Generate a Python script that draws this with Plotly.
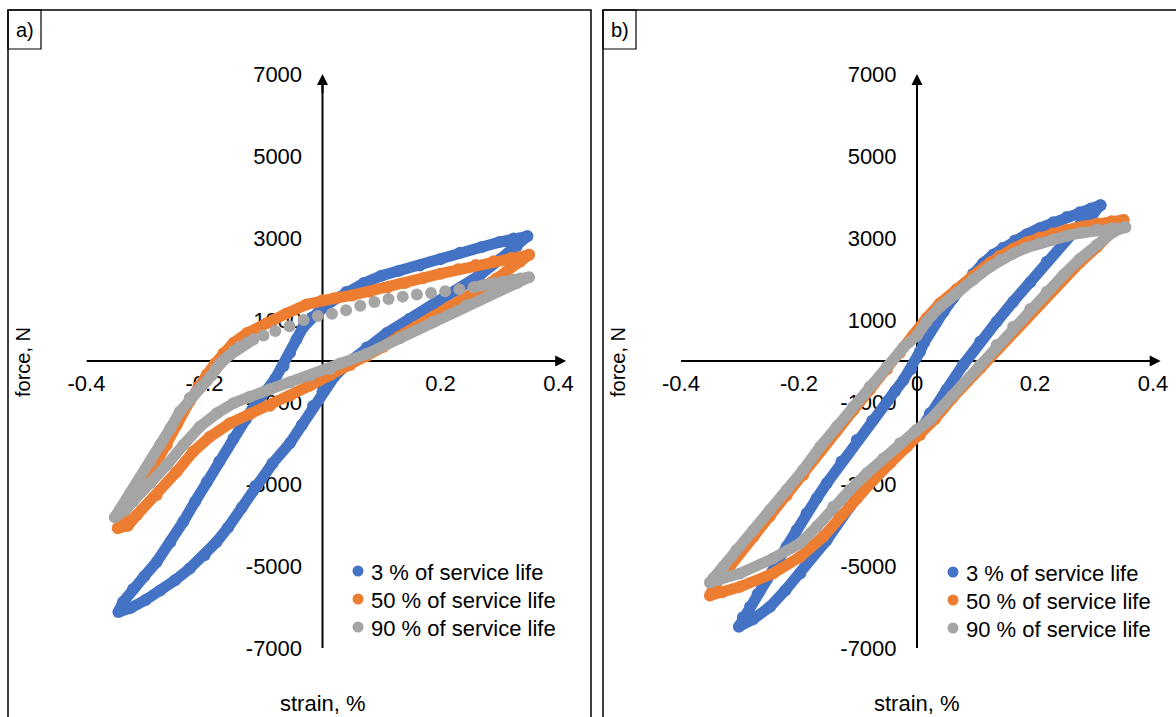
import plotly.graph_objects as go

W, H = 1176, 717

BLUE = "#4472C4"
ORANGE = "#ED7D31"
GRAY = "#A5A5A5"

SERIES_NAMES = ["3 % of service life", "50 % of service life", "90 % of service life"]

X_TICKS = [-0.4, -0.2, 0.0, 0.2, 0.4]
X_TICK_TEXT = ["-0.4", "-0.2", "0", "0.2", "0.4"]
Y_TICKS = [-7000, -5000, -3000, -1000, 1000, 3000, 5000, 7000]
Y_TICK_TEXT = ["-7000", "-5000", "-3000", "-1000", "1000", "3000", "5000", "7000"]

# ---------------- panel a) ----------------
a_blue_strain = [0.347, 0.324, 0.300, 0.270, 0.233, 0.200, 0.165, 0.130, 0.100, 0.070, 0.040, 0.015,
                 -0.004, -0.018, -0.033, -0.044, -0.055, -0.066, -0.080, -0.095, -0.112, -0.130, -0.151,
                 -0.175, -0.196, -0.216, -0.236, -0.258, -0.281, -0.302, -0.321, -0.338, -0.346,
                 -0.325, -0.300, -0.275, -0.250, -0.225, -0.200, -0.180, -0.160, -0.137, -0.114, -0.085,
                 -0.055, -0.035, -0.016, 0.000, 0.020, 0.045, 0.075, 0.109, 0.148, 0.188, 0.227, 0.267,
                 0.301, 0.329, 0.347]
a_blue_force = [3040, 2990, 2900, 2780, 2640, 2480, 2330, 2200, 2080, 1900, 1680, 1450,
                1240, 1060, 820, 530, 200, -120, -430, -720, -1000, -1420, -1890,
                -2450, -2950, -3430, -3920, -4420, -4900, -5250, -5560, -5880, -6120,
                -6020, -5830, -5600, -5350, -5060, -4740, -4420, -4060, -3580, -3050, -2500,
                -2000, -1560, -1100, -750, -380, -30, 330, 680, 1030, 1380, 1720, 2100,
                2480, 2800, 3040]

a_orange_strain = [0.350, 0.320, 0.290, 0.260, 0.230, 0.200, 0.170, 0.140, 0.110, 0.080, 0.050, 0.020,
                   0.000, -0.027, -0.061, -0.095, -0.128, -0.151, -0.168, -0.182, -0.196, -0.210, -0.225,
                   -0.247, -0.264, -0.287, -0.309, -0.332, -0.347,
                   -0.330, -0.315, -0.281, -0.247, -0.219, -0.191, -0.157, -0.123, -0.089, -0.055, -0.021,
                   0.013, 0.047, 0.075, 0.103, 0.130, 0.160, 0.190, 0.216, 0.245, 0.273, 0.295, 0.312,
                   0.335, 0.350]
a_orange_force = [2590, 2510, 2430, 2340, 2240, 2130, 2020, 1900, 1790, 1690, 1600, 1530,
                  1480, 1380, 1160, 920, 680, 440, 190, -60, -330, -620, -980,
                  -1560, -2050, -2620, -3110, -3590, -4080,
                  -4020, -3760, -3270, -2700, -2210, -1850, -1520, -1300, -1090, -850, -600,
                  -340, -100, 120, 350, 600, 840, 1100, 1330, 1570, 1810, 2010, 2180,
                  2420, 2590]

# dense part of the 90 % loop
a_gray_strain = [-0.117, -0.128, -0.140, -0.150, -0.157, -0.166, -0.174, -0.181, -0.188, -0.196, -0.205,
                 -0.215, -0.225, -0.242, -0.258, -0.275, -0.292, -0.309, -0.326, -0.343, -0.352,
                 -0.335, -0.321, -0.292, -0.264, -0.236, -0.208, -0.179, -0.151, -0.123, -0.089, -0.055,
                 -0.021, 0.013, 0.030, 0.075, 0.131, 0.188, 0.245, 0.290, 0.329, 0.350,
                 0.335, 0.323, 0.305, 0.290, 0.272, 0.256]
a_gray_force = [529, 440, 349, 250, 146, 40, -60, -200, -350, -480, -620,
                -760, -900, -1240, -1643, -2050, -2457, -2862, -3270, -3636, -3810,
                -3640, -3433, -2984, -2538, -2050, -1603, -1276, -1032, -871, -691, -520,
                -359, -195, -60, 171, 553, 960, 1366, 1651, 1895, 2045,
                2010, 1976, 1935, 1896, 1850, 1800]
# widely spaced samples of the 90 % loop (fast part of the cycle)
a_gray_dots_strain = [0.232, 0.208, 0.184, 0.160, 0.136, 0.112, 0.088, 0.064, 0.040, 0.016,
                      -0.008, -0.032, -0.056, -0.080, -0.100]
a_gray_dots_force = [1750, 1700, 1660, 1620, 1570, 1510, 1440, 1350, 1240, 1150,
                     1100, 1000, 850, 730, 620]

# ---------------- panel b) ----------------
b_blue_strain = [0.311, 0.295, 0.276, 0.254, 0.231, 0.208, 0.186, 0.166, 0.146, 0.129, 0.112, 0.095,
                 0.078, 0.061, 0.045, 0.033, 0.022, 0.012, 0.005, -0.010, -0.023, -0.037, -0.051,
                 -0.076, -0.102, -0.128, -0.153, -0.170, -0.187, -0.204, -0.221, -0.238, -0.255,
                 -0.270, -0.283, -0.295, -0.302,
                 -0.278, -0.249, -0.223, -0.198, -0.153, -0.114, -0.068, -0.029, 0.000, 0.022, 0.050,
                 0.078, 0.107, 0.135, 0.163, 0.192, 0.220, 0.248, 0.276, 0.299, 0.311]
b_blue_force = [3800, 3720, 3628, 3510, 3384, 3240, 3092, 2940, 2765, 2590, 2384, 2130,
                1854, 1530, 1203, 950, 715, 450, 227, -200, -464, -730, -993,
                -1460, -1928, -2450, -2984, -3350, -3716, -4120, -4531, -4940, -5344,
                -5680, -5994, -6250, -6480,
                -6300, -5994, -5590, -5181, -4368, -3555, -2740, -2091, -1806, -1276, -700,
                -98, 471, 959, 1447, 1923, 2423, 2911, 3318, 3604, 3800]

b_orange_strain = [0.350, 0.330, 0.305, 0.280, 0.254, 0.230, 0.208, 0.185, 0.163, 0.140, 0.124, 0.095,
                   0.067, 0.039, 0.016, -0.006, -0.029, -0.051, -0.080, -0.108, -0.136, -0.164, -0.193,
                   -0.221, -0.249, -0.277, -0.306, -0.328, -0.345, -0.351,
                   -0.330, -0.300, -0.244, -0.198, -0.159, -0.131, -0.102, -0.074, -0.046, -0.017, 0.005,
                   0.030, 0.060, 0.107, 0.135, 0.163, 0.192, 0.220, 0.248, 0.276, 0.305, 0.333, 0.350]
b_orange_force = [3440, 3410, 3350, 3280, 3200, 3110, 3010, 2890, 2740, 2560, 2400, 2080,
                  1750, 1410, 1040, 620, 200, -200, -700, -1200, -1700, -2200, -2780,
                  -3280, -3780, -4280, -4770, -5180, -5520, -5720,
                  -5640, -5507, -5181, -4775, -4287, -3799, -3351, -2904, -2497, -2091, -1806,
                  -1420, -900, -180, 290, 730, 1160, 1590, 2000, 2400, 2780, 3150, 3440]

b_gray_strain = [0.353, 0.330, 0.305, 0.280, 0.254, 0.230, 0.208, 0.185, 0.163, 0.140, 0.124, 0.095,
                 0.067, 0.039, 0.016, 0.000, -0.023, -0.051, -0.080, -0.108, -0.136, -0.164, -0.193,
                 -0.221, -0.249, -0.277, -0.306, -0.328, -0.345, -0.351,
                 -0.335, -0.300, -0.244, -0.198, -0.170, -0.142, -0.114, -0.085, -0.057, -0.029, -0.001,
                 0.022, 0.060, 0.107, 0.135, 0.163, 0.192, 0.220, 0.248, 0.276, 0.305, 0.333, 0.353]
b_gray_force = [3260, 3240, 3200, 3130, 3050, 2960, 2870, 2760, 2620, 2460, 2300, 1980,
                1650, 1320, 960, 620, 330, -139, -627, -1115, -1603, -2091, -2660,
                -3148, -3636, -4124, -4612, -5019, -5300, -5400,
                -5330, -5181, -4815, -4448, -4043, -3555, -3148, -2740, -2375, -2008, -1684,
                -1440, -850, -98, 390, 837, 1269, 1691, 2098, 2489, 2830, 3155, 3260]

# ---------------- figure ----------------
MS = 12      # marker diameter
LW = 11      # band width joining consecutive samples
FONT = "Liberation Sans, Arial, sans-serif"
COLORS = (BLUE, ORANGE, GRAY)


def px_x(p):
    return p / W


def px_y(p):
    return 1 - p / H


fig = go.Figure()


def band(xs, ys, color, name, xa, ya, mode="lines+markers"):
    fig.add_trace(go.Scatter(
        x=xs, y=ys, mode=mode, xaxis=xa, yaxis=ya, name=name, showlegend=False,
        line=dict(color=color, width=LW),
        marker=dict(color=color, size=MS, line=dict(width=0)),
        hoverinfo="skip", cliponaxis=False))


band(a_blue_strain, a_blue_force, BLUE, SERIES_NAMES[0], "x", "y")
band(a_orange_strain, a_orange_force, ORANGE, SERIES_NAMES[1], "x", "y")
band(a_gray_strain, a_gray_force, GRAY, SERIES_NAMES[2], "x", "y")
band(a_gray_dots_strain, a_gray_dots_force, GRAY, SERIES_NAMES[2], "x", "y", mode="markers")

band(b_blue_strain, b_blue_force, BLUE, SERIES_NAMES[0], "x2", "y2")
band(b_orange_strain, b_orange_force, ORANGE, SERIES_NAMES[1], "x2", "y2")
band(b_gray_strain, b_gray_force, GRAY, SERIES_NAMES[2], "x2", "y2")

# axes geometry (pixels)
A_X0, B_X0 = 322.5, 917.0          # pixel of strain = 0
PX_PER_STRAIN = 590.0
Y0_PX, PX_PER_N = 361.0, 0.041     # pixel of force = 0 and scale


def x_domain(x0):
    return [px_x(x0 - 0.4 * PX_PER_STRAIN), px_x(x0 + 0.4 * PX_PER_STRAIN)]


y_dom = [px_y(Y0_PX + 7000 * PX_PER_N), px_y(Y0_PX - 7000 * PX_PER_N)]

common_x = dict(range=[-0.4, 0.4], tickvals=X_TICKS, ticktext=X_TICK_TEXT, anchor="free",
                position=px_y(Y0_PX), ticks="outside", ticklen=3, tickcolor="rgba(0,0,0,0)",
                showline=False, zeroline=False, showgrid=False, layer="below traces",
                automargin=False,
                tickfont=dict(family=FONT, size=22, color="black"), fixedrange=True)
common_y = dict(range=[-7000, 7000], domain=y_dom, tickvals=Y_TICKS, ticktext=Y_TICK_TEXT,
                anchor="free", ticks="outside", ticklen=16, tickcolor="rgba(0,0,0,0)",
                showline=False, zeroline=False, showgrid=False, layer="below traces",
                automargin=False,
                tickfont=dict(family=FONT, size=22, color="black"), fixedrange=True)

fig.update_layout(
    width=W, height=H, margin=dict(l=0, r=0, t=0, b=0, pad=0, autoexpand=False),
    paper_bgcolor="white", plot_bgcolor="rgba(0,0,0,0)",
    font=dict(family=FONT, size=22, color="black"),
    xaxis=dict(domain=x_domain(A_X0), **common_x),
    yaxis=dict(position=px_x(A_X0), **common_y),
    xaxis2=dict(domain=x_domain(B_X0), **common_x),
    yaxis2=dict(position=px_x(B_X0), **common_y),
    showlegend=False,
    hovermode=False,
)

shapes = []
annotations = []
PANELS = (("x", "y", A_X0, "a)", 8, 358, (571, 599, 627)),
          ("x2", "y2", B_X0, "b)", 603, 953, (572, 600, 628)))
for xr, yr, x0px, label, box_left, leg_x, leg_rows in PANELS:
    # axis lines (below the data)
    shapes.append(dict(type="line", xref=xr, yref=yr, x0=-0.4, x1=0.405, y0=0, y1=0,
                       line=dict(color="black", width=2), layer="below"))
    shapes.append(dict(type="line", xref=xr, yref=yr, x0=0, x1=0, y0=-7000, y1=6850,
                       line=dict(color="black", width=2), layer="below"))
    # arrow heads
    annotations.append(dict(x=0.413, y=0, ax=0.38, ay=0, xref=xr, yref=yr, axref=xr, ayref=yr,
                            text="", showarrow=True, arrowhead=2, arrowsize=1.1, arrowwidth=2,
                            arrowcolor="black", standoff=0))
    annotations.append(dict(x=0, y=7000, ax=0, ay=6500, xref=xr, yref=yr, axref=xr, ayref=yr,
                            text="", showarrow=True, arrowhead=2, arrowsize=1.1, arrowwidth=2,
                            arrowcolor="black", standoff=0))
    # axis titles
    annotations.append(dict(text="force, N", x=px_x(box_left + 15), y=px_y(362), xref="paper",
                            yref="paper", showarrow=False, textangle=-90,
                            xanchor="center", yanchor="middle",
                            font=dict(family=FONT, size=20, color="black")))
    annotations.append(dict(text="strain, %", x=px_x(x0px), y=px_y(703), xref="paper",
                            yref="paper", showarrow=False, xanchor="center", yanchor="middle",
                            font=dict(family=FONT, size=22, color="black")))
    # panel frame and panel label box
    shapes.append(dict(type="rect", xref="paper", yref="paper",
                       x0=px_x(box_left), x1=px_x(box_left + 583) if box_left == 8 else 1.05,
                       y0=-0.05, y1=px_y(10), line=dict(color="black", width=1.5)))
    shapes.append(dict(type="rect", xref="paper", yref="paper",
                       x0=px_x(box_left), x1=px_x(box_left + 33), y0=px_y(49), y1=px_y(10),
                       line=dict(color="black", width=1.2)))
    annotations.append(dict(text=label, x=px_x(box_left + 16.5), y=px_y(30), xref="paper",
                            yref="paper", showarrow=False, xanchor="center", yanchor="middle",
                            font=dict(family=FONT, size=20, color="black")))
    # legend (symbol + label per series)
    for name, color, row in zip(SERIES_NAMES, COLORS, leg_rows):
        shapes.append(dict(type="circle", xref="paper", yref="paper",
                           xsizemode="pixel", ysizemode="pixel",
                           xanchor=px_x(leg_x), yanchor=px_y(row),
                           x0=-5.5, x1=5.5, y0=-5.5, y1=5.5,
                           fillcolor=color, line=dict(width=0)))
        annotations.append(dict(text=name, x=px_x(leg_x + 11), y=px_y(row + 1), xref="paper",
                                yref="paper", showarrow=False, xanchor="left", yanchor="middle",
                                font=dict(family=FONT, size=22, color="black")))

fig.update_layout(shapes=shapes, annotations=annotations)

fig.write_html("out.html", config={"displayModeBar": False, "staticPlot": True},
               post_script="document.body.style.margin='0px';")
